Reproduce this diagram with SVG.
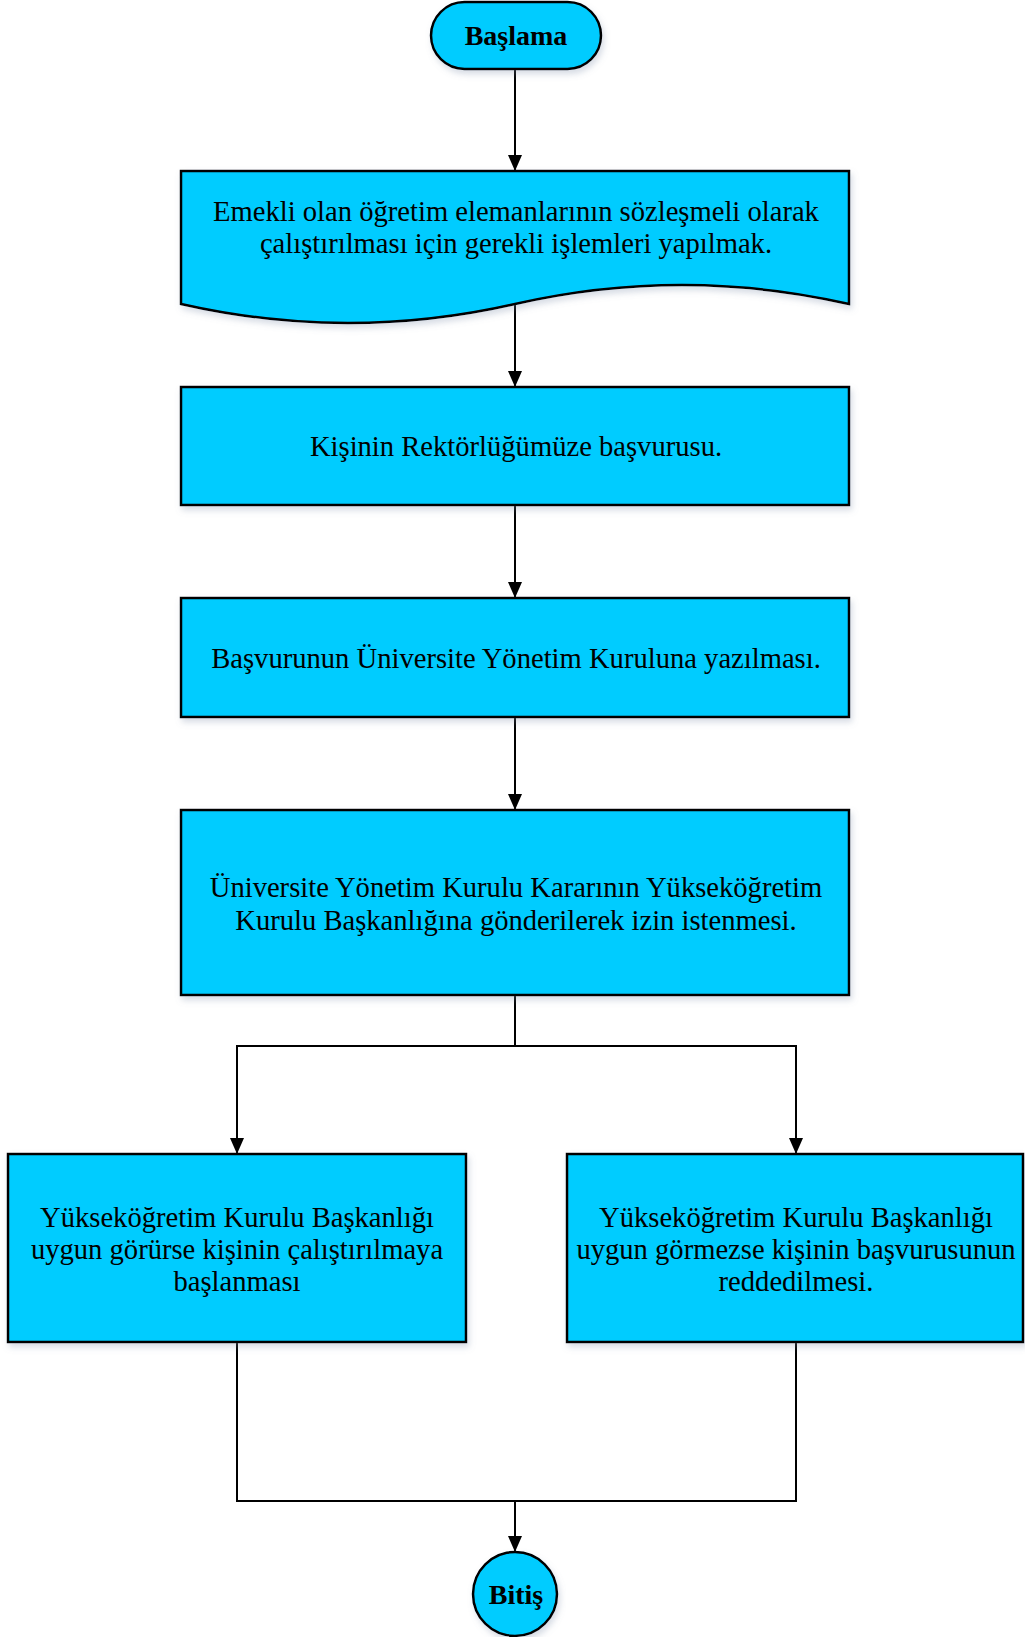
<svg xmlns="http://www.w3.org/2000/svg" width="1025" height="1637" viewBox="0 0 1025 1637">
<style>
.shape{fill:#00CCFF;stroke:#000;stroke-width:2.5}
.conn{fill:none;stroke:#000;stroke-width:2}
.t{font-family:"Liberation Serif",serif;font-size:28.6px;fill:#000;text-anchor:middle}
.tb{font-family:"Liberation Serif",serif;font-size:28px;font-weight:bold;fill:#000;text-anchor:middle}
</style>
<defs>
<marker id="arr" viewBox="0 0 16 14" refX="16" refY="7" markerWidth="16" markerHeight="14" markerUnits="userSpaceOnUse" orient="auto">
<path d="M0,0 L16,7 L0,14 z" fill="#000"/>
</marker>
<filter id="sh" x="-10%" y="-10%" width="120%" height="130%">
<feDropShadow dx="2" dy="4" stdDeviation="3" flood-color="#7a8aa8" flood-opacity="0.3"/>
</filter>
</defs>
<rect width="1025" height="1637" fill="#fff"/>
<g id="connectors">
<line class="conn" x1="515" y1="69" x2="515" y2="171" marker-end="url(#arr)"/>
<line class="conn" x1="515" y1="304" x2="515" y2="387" marker-end="url(#arr)"/>
<line class="conn" x1="515" y1="505" x2="515" y2="598" marker-end="url(#arr)"/>
<line class="conn" x1="515" y1="717" x2="515" y2="810" marker-end="url(#arr)"/>
<path class="conn" d="M515,995 V1046 H237 V1154" marker-end="url(#arr)"/>
<path class="conn" d="M515,1046 H796 V1154" marker-end="url(#arr)"/>
<path class="conn" d="M237,1342 V1501 H796 V1342"/>
<line class="conn" x1="515" y1="1501" x2="515" y2="1552" marker-end="url(#arr)"/>
</g>
<g id="start">
<rect class="shape" filter="url(#sh)" x="431" y="2" width="170" height="67" rx="33.5"/>
<text class="tb" x="516" y="45">Başlama</text>
</g>
<g id="step1">
<path class="shape" filter="url(#sh)" d="M181,171 H849 V304 Q682,266 515,304 Q348,342 181,304 Z"/>
<text class="t" x="516" y="221">Emekli olan öğretim elemanlarının sözleşmeli olarak</text>
<text class="t" x="516" y="253">çalıştırılması için gerekli işlemleri yapılmak.</text>
</g>
<g id="step2">
<rect class="shape" filter="url(#sh)" x="181" y="387" width="668" height="118"/>
<text class="t" x="516" y="456">Kişinin Rektörlüğümüze başvurusu.</text>
</g>
<g id="step3">
<rect class="shape" filter="url(#sh)" x="181" y="598" width="668" height="119"/>
<text class="t" x="516" y="668">Başvurunun Üniversite Yönetim Kuruluna yazılması.</text>
</g>
<g id="step4">
<rect class="shape" filter="url(#sh)" x="181" y="810" width="668" height="185"/>
<text class="t" x="516" y="897">Üniversite Yönetim Kurulu Kararının Yükseköğretim</text>
<text class="t" x="516" y="930">Kurulu Başkanlığına gönderilerek izin istenmesi.</text>
</g>
<g id="approve">
<rect class="shape" filter="url(#sh)" x="8" y="1154" width="458" height="188"/>
<text class="t" x="237" y="1227">Yükseköğretim Kurulu Başkanlığı</text>
<text class="t" x="237" y="1259">uygun görürse kişinin çalıştırılmaya</text>
<text class="t" x="237" y="1291">başlanması</text>
</g>
<g id="reject">
<rect class="shape" filter="url(#sh)" x="567" y="1154" width="456" height="188"/>
<text class="t" x="796" y="1227">Yükseköğretim Kurulu Başkanlığı</text>
<text class="t" x="796" y="1259">uygun görmezse kişinin başvurusunun</text>
<text class="t" x="796" y="1291">reddedilmesi.</text>
</g>
<g id="end">
<circle class="shape" filter="url(#sh)" cx="515" cy="1594" r="42"/>
<text class="tb" x="516" y="1604">Bitiş</text>
</g>
</svg>
